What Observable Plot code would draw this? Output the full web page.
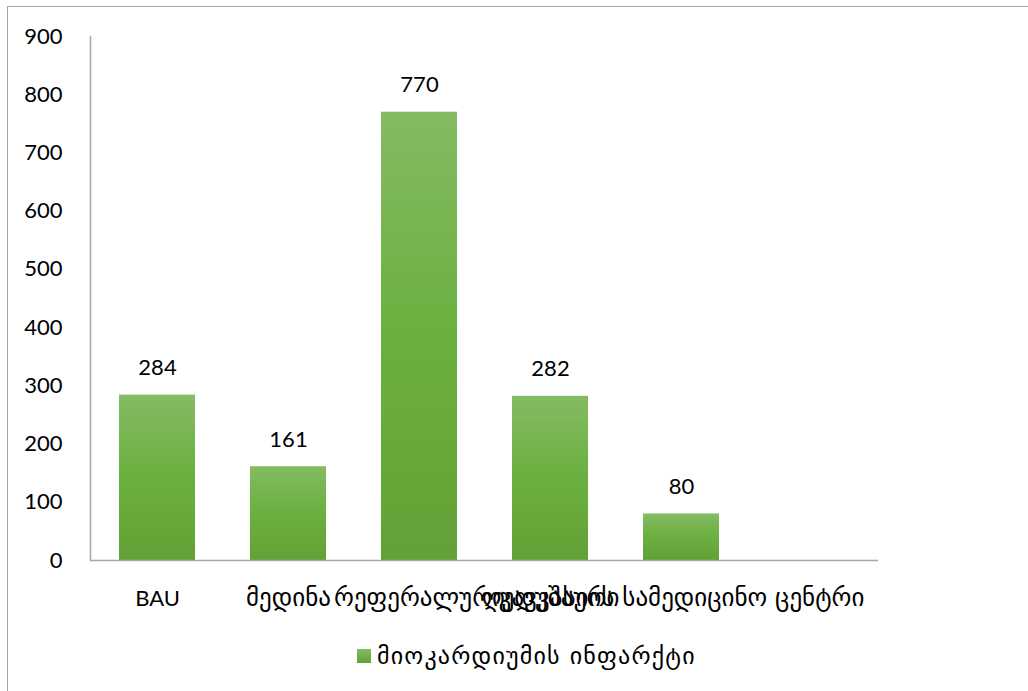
<!DOCTYPE html>
<html>
<head>
<meta charset="utf-8">
<script src="https://cdn.jsdelivr.net/npm/d3@7"></script>
<script src="https://cdn.jsdelivr.net/npm/@observablehq/plot@0.6"></script>
<style>
  body { margin: 0; background: #fff; font-family: Lato, "DejaVu Sans", sans-serif; }
  #wrap { position: relative; width: 1028px; height: 691px; overflow: hidden; }
  #border { position: absolute; left: 7px; top: 6px; width: 1100px; height: 800px; border-left: 1.5px solid #a6a6a6; border-top: 1.5px solid #a6a6a6; }
  #chart { position: absolute; left: 0; top: 0; }
  #legend { position: absolute; left: 357px; top: 642px; display: flex; align-items: center; font-size: 24px; letter-spacing: 1.2px; color: #000; font-family: "DejaVu Sans", sans-serif; }
  #legend .sw { width: 14px; height: 14px; background: linear-gradient(#84bb63, #62a135); margin-right: 6px; }
</style>
</head>
<body>
<div id="wrap">
  <div id="border"></div>
  <div id="chart"></div>
  <div id="legend"><span class="sw"></span><span id="legtext"></span></div>
</div>
<script>
const categories = ["BAU", "მედინა", "რეფერალური", "ღუდუშაური", "კავკასიის სამედიცინო ცენტრი", " "];
const values = [284, 161, 770, 282, 80, null];
const seriesName = "მიოკარდიუმის ინფარქტი";
const yTicks = [0, 100, 200, 300, 400, 500, 600, 700, 800, 900];

const data = categories.map((c, i) => ({category: c, value: values[i]}));
const bars = data.filter(d => d.value != null);
const isLatin = s => /^[\x00-\x7F]*$/.test(s);
const latinLabels = data.filter(d => isLatin(d.category));
const georgianLabels = data.filter(d => !isLatin(d.category));

document.getElementById("legtext").textContent = seriesName;

const chart = Plot.plot({
  width: 1028,
  height: 620,
  marginTop: 36,
  marginBottom: 60,
  marginLeft: 90,
  marginRight: 150,
  style: { fontFamily: "Lato, 'DejaVu Sans', sans-serif", fontSize: "22px", color: "#000", background: "transparent", overflow: "visible" },
  x: { domain: categories, paddingInner: 0.42, paddingOuter: 0.21, label: null, axis: null },
  y: { domain: [0, 900], ticks: yTicks, label: null },
  marks: [
    Plot.frame({ anchor: "left", stroke: "#a6a6a6", strokeWidth: 1.5 }),
    Plot.barY(bars, { x: "category", y: "value", fill: "url(#barGrad)" }),
    Plot.ruleY([0], { stroke: "#a6a6a6", strokeWidth: 1.5 }),
    Plot.text(bars, { x: "category", y: "value", text: d => String(d.value), dy: -27, fontSize: 22, fill: "#000" }),
    Plot.axisY({ ticks: yTicks, tickSize: 0, tickPadding: 28, fontSize: 22, fill: "#000", label: null }),
    Plot.text(latinLabels, { x: "category", text: "category", frameAnchor: "bottom", dy: 45, fontSize: 22, fill: "#000" }),
    Plot.text(georgianLabels, {
      x: "category", text: "category", frameAnchor: "bottom", dy: 45,
      fontSize: 25, fill: "#000", fontFamily: "'DejaVu Sans', sans-serif", ariaLabel: "xlabels-ka"
    })
  ]
});

const svg = d3.select(chart);
const defs = svg.insert("defs", ":first-child");
const g = defs.append("linearGradient").attr("id", "barGrad").attr("x1", 0).attr("y1", 0).attr("x2", 0).attr("y2", 1);
g.append("stop").attr("offset", "0%").attr("stop-color", "#84bb63");
g.append("stop").attr("offset", "45%").attr("stop-color", "#6db142");
g.append("stop").attr("offset", "100%").attr("stop-color", "#62a135");

svg.selectAll('g[aria-label="xlabels-ka"] text').style("letter-spacing", "3px");

document.getElementById("chart").appendChild(chart);
</script>
</body>
</html>
